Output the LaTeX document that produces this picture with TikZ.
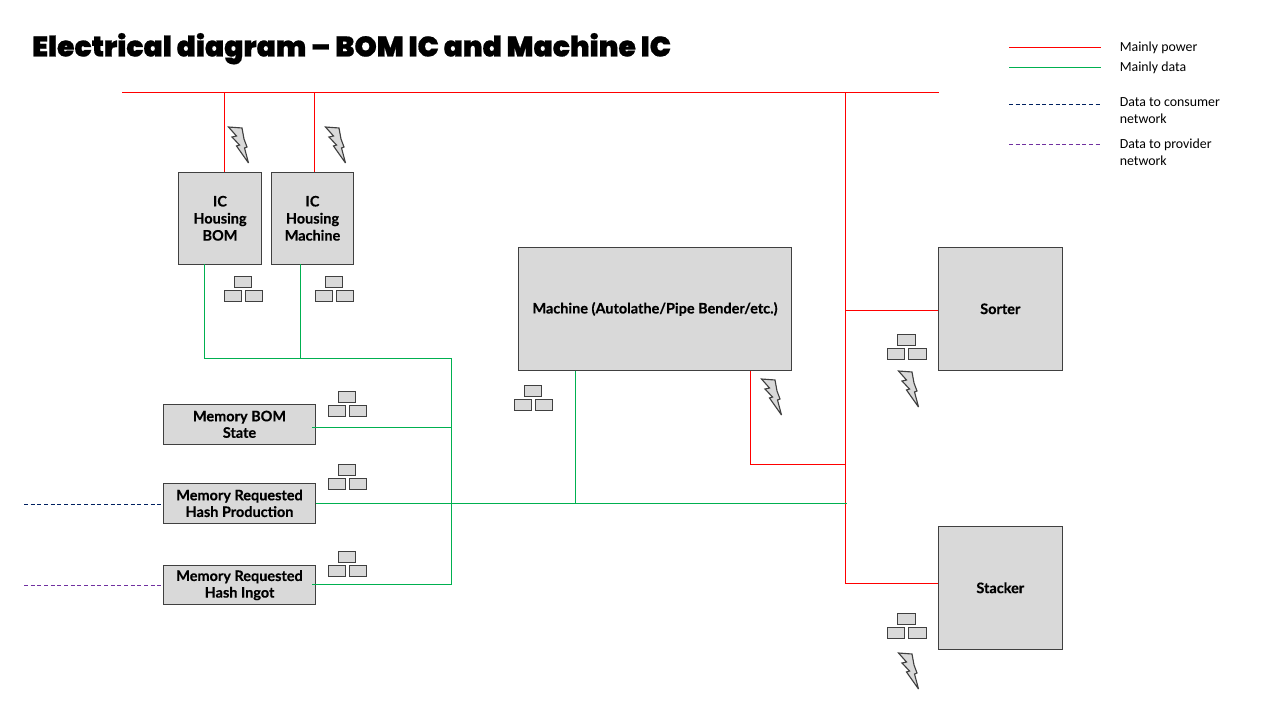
\documentclass[tikz,border=0pt]{standalone}
\usepackage{fontspec}
\setmainfont{Lato}[BoldFont={Lato Bold}]
\newfontfamily\boxfont{Lato}[UprightFont={* Bold},UprightFeatures={FakeBold=0.35}]
\newfontfamily\titlefont{Poppins Black}[FakeBold=0.6]
\newfontfamily\legfont{Carlito}
\definecolor{boxfill}{HTML}{D9D9D9}
\definecolor{boxline}{HTML}{404040}
\definecolor{powerred}{HTML}{FF0000}
\definecolor{datagreen}{HTML}{00B050}
\definecolor{consnavy}{HTML}{002060}
\definecolor{provpurple}{HTML}{7030A0}
\tikzset{
  x=0.75pt,y=-0.75pt,
  box/.style={draw=boxline,fill=boxfill,line width=0.8pt,inner sep=0pt,outer sep=0pt,align=center,font=\boxfont\fontsize{10.85}{12.8}\selectfont,text=black},
  brick/.style={draw=boxline,fill=boxfill,line width=0.75pt},
  bolt/.style={draw=boxline,fill=boxfill,line width=0.85pt,line join=miter,miter limit=3},
  power/.style={draw=powerred,line width=0.8pt},
  data/.style={draw=datagreen,line width=0.8pt},
  consumer/.style={draw=consnavy,line width=0.6pt,dash pattern=on 3pt off 2pt},
  provider/.style={draw=provpurple,line width=0.6pt,dash pattern=on 3pt off 2pt},
  legtext/.style={anchor=west,inner sep=0pt,align=left,font=\legfont\fontsize{10.4}{12.8}\selectfont,text=black},
}
\newcommand{\bricks}[2]{%
  \begin{scope}[shift={(#1,#2)}]
    \draw[brick] (10,0) rectangle (27.5,11.5);
    \draw[brick] (0,14) rectangle (17,25.5);
    \draw[brick] (21,14) rectangle (38.5,25.5);
  \end{scope}}
\newcommand{\lightning}[2]{%
  \begin{scope}[shift={(#1,#2)}]
    \draw[bolt] (0,0) -- (13.5,1) -- (15.5,12) -- (18.5,20) -- (16,21) -- (20,36) -- (8,19) -- (11,18) -- (3.5,10) -- (8,9) -- cycle;
  \end{scope}}
\begin{document}
\begin{tikzpicture}
\useasboundingbox (0,0) rectangle (1280,720);
\node[anchor=base west,inner sep=0pt,font=\titlefont\fontsize{21.2}{24}\selectfont] (title) at (32,56.5) {Electrical diagram – BOM IC and Machine IC};

% boxes
\node[box,minimum width=83*0.75pt,minimum height=92*0.75pt] (icb) at (220,218.3) {IC\\Housing\\BOM};
\node[box,minimum width=82.4*0.75pt,minimum height=92*0.75pt] (icm) at (312.5,218.3) {IC\\Housing\\Machine};
\node[box,minimum width=273.4*0.75pt,minimum height=123*0.75pt] (machine) at (655,309) {Machine (Autolathe/Pipe Bender/etc.)};
\node[box,minimum width=124*0.75pt,minimum height=123*0.75pt] (sorter) at (1000.3,308.8) {Sorter};
\node[box,minimum width=124*0.75pt,minimum height=123*0.75pt] (stacker) at (1000.3,587.8) {Stacker};
\node[box,minimum width=152.4*0.75pt,minimum height=40*0.75pt] (membom) at (239.5,424.3) {\raisebox{-1pt}{\shortstack{Memory BOM\\[-0.4pt]State}}};
\node[box,minimum width=152.4*0.75pt,minimum height=40*0.75pt] (memprod) at (239.5,503.3) {\raisebox{-1pt}{\shortstack{Memory Requested\\[-0.4pt]Hash Production}}};
\node[box,minimum width=152.4*0.75pt,minimum height=39*0.75pt] (memingot) at (239.5,585.2) {\raisebox{-1pt}{\shortstack{Memory Requested\\[-0.4pt]Hash Ingot}}};

% junctions and free ends
\coordinate (busl) at (122,92.5);
\coordinate (busr) at (939,92.5);
\coordinate (pa) at (224.5,92.5);
\coordinate (pb) at (314.5,92.5);
\coordinate (pc) at (845.5,92.5);
\coordinate (pd) at (845.5,583.5);
\coordinate (ps) at (845.5,310.5);
\coordinate (pm) at (845.5,464.5);
\coordinate (pmc) at (750.5,464.5);
\coordinate (da) at (204.5,358.5);
\coordinate (db) at (300.5,358.5);
\coordinate (dc) at (451.5,358.5);
\coordinate (dd) at (451.5,584.5);
\coordinate (de) at (451.5,427.5);
\coordinate (df) at (575.5,503.5);
\coordinate (dg) at (846.5,503.5);
\coordinate (ca) at (24,504.5);
\coordinate (cb) at (162,504.5);
\coordinate (va) at (24,585.5);
\coordinate (vb) at (162,585.5);

% power
\draw[power] (busl) -- (busr);
\draw[power] (pa) -- (pa |- icb.north);
\draw[power] (pb) -- (pb |- icm.north);
\draw[power] (pc) -- (pd) -- (pd -| stacker.west);
\draw[power] (ps) -- (ps -| sorter.west);
\draw[power] (pm) -- (pmc) -- (pmc |- machine.south);

% data
\draw[data] (da |- icb.south) -- (da) -- (dc) -- (dd) -- (312,584.5);
\draw[data] (db |- icm.south) -- (db);
\draw[data] (312,427.5) -- (de);
\draw[data] (memprod.east |- dg) -- (dg);
\draw[data] (df) -- (df |- machine.south);

% external
\draw[consumer] (ca) -- (cb);
\draw[provider] (va) -- (vb);

% icons
\bricks{224.3}{276.3}
\bricks{315.3}{276.3}
\bricks{328}{391.3}
\bricks{328}{464.3}
\bricks{328}{551.3}
\bricks{514}{385.3}
\bricks{887.5}{334.3}
\bricks{887.5}{613.3}
\lightning{228.5}{127}
\lightning{325.5}{127}
\lightning{761.5}{379}
\lightning{898.5}{371}
\lightning{898.5}{653}

% legend
\coordinate (la) at (1009,47.5);\coordinate (lb) at (1101,47.5);
\coordinate (lc) at (1009,67.5);\coordinate (ld) at (1101,67.5);
\coordinate (le) at (1009,104.5);\coordinate (lf) at (1101,104.5);
\coordinate (lg) at (1009,144.5);\coordinate (lh) at (1101,144.5);
\draw[power] (la) -- (lb);
\draw[data] (lc) -- (ld);
\draw[consumer] (le) -- (lf);
\draw[provider] (lg) -- (lh);
\node[legtext] (t1) at (1119.5,47.5) {Mainly power};
\node[legtext] (t2) at (1119.5,67.5) {Mainly data};
\node[legtext] (t3) at (1119.5,111) {Data to consumer\\network};
\node[legtext] (t4) at (1119.5,152) {Data to provider\\network};
\end{tikzpicture}
\end{document}
